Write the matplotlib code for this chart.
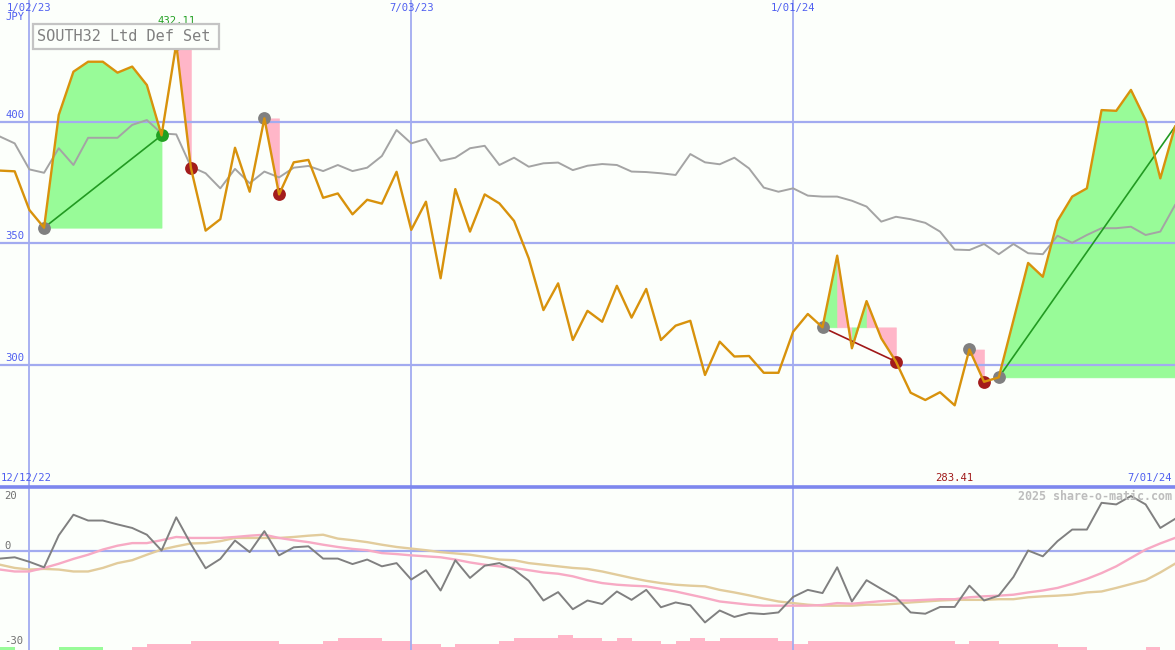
import matplotlib
matplotlib.use("Agg")
import matplotlib.pyplot as plt
from matplotlib.transforms import blended_transform_factory
from matplotlib.patches import Rectangle
import numpy as np

# ---------------- data ----------------
price = [380, 379.7, 363.8, 356.5, 402.9, 420.7, 424.8, 424.8, 420.3, 422.8,
         415.2, 394.5, 432.11, 381, 355.3, 360, 389.4, 371.3, 401.5, 370.2,
         383.4, 384.4, 368.8, 370.6, 362, 368, 366.4, 379.5, 355.6, 367.2,
         335.7, 372.4, 354.9, 370.2, 366.5, 359.3, 343.9, 322.6, 333.6, 310.3,
         322.3, 317.8, 332.6, 319.5, 331.3, 310.3, 316.2, 318.2, 295.9, 309.6,
         303.5, 303.7, 296.8, 296.8, 313.7, 321, 315.5, 345, 306.9, 326.3,
         311, 301.4, 288.6, 285.6, 288.8, 283.41, 306.4, 293.1, 294.9, 318.4,
         342, 336.3, 359.3, 369.3, 372.7, 404.9, 404.6, 413.2, 400.8, 376.8,
         398.1]

benchmark = [394, 391.2, 380.5, 379.1, 389.2, 382.3, 393.5, 393.5, 393.5, 398.8,
             400.8, 395.3, 394.9, 381.6, 378.9, 372.7, 380.7, 374.8, 379.6, 377.2,
             381.2, 381.9, 379.8, 382.3, 379.8, 381.2, 386, 396.7, 391.2, 393,
             384, 385.3, 389.2, 390.2, 382.3, 385.3, 381.6, 383, 383.3, 380.2,
             382, 382.7, 382.3, 379.6, 379.4, 378.9, 378.2, 386.8, 383.4, 382.6,
             385.3, 380.9, 373, 371.3, 372.7, 369.7, 369.3, 369.3, 367.6, 365.2,
             359, 361, 360, 358.5, 354.9, 347.5, 347.3, 349.8, 345.6, 349.8,
             346, 345.6, 353.2, 350.3, 353.5, 356.3, 356.3, 356.9, 353.5, 354.9,
             365.8]

momentum = [-2.2, -1.8, -3.2, -4.9, 5.0, 11.4, 9.6, 9.6, 8.4, 7.3,
            5.2, 0.3, 10.6, 2.3, -5.2, -2.3, 3.4, -0.2, 6.3, -1.2,
            1.3, 1.6, -2.2, -2.2, -3.9, -2.5, -4.6, -3.6, -8.7, -5.8,
            -12.1, -2.7, -8.2, -4.4, -3.6, -5.6, -9.1, -15.2, -12.6, -17.9,
            -15.2, -16.3, -12.4, -15.0, -11.9, -17.3, -15.8, -16.7, -22.0, -18.3,
            -20.3, -19.1, -19.4, -18.9, -14.1, -11.9, -12.9, -4.9, -15.5, -8.9,
            -11.6, -14.2, -18.9, -19.3, -17.2, -17.2, -10.6, -15.2, -13.7, -7.9,
            0.3, -1.5, 3.2, 6.8, 6.8, 15.1, 14.6, 17.2, 14.6, 7.3,
            10.1]

ma_fast = [-5.6, -6.2, -6.2, -5.1, -3.8, -2.3, -1.0, 0.6, 1.8, 2.6,
           2.6, 3.5, 4.5, 4.2, 4.2, 4.2, 4.5, 4.9, 5.2, 4.2,
           3.5, 2.9, 2.1, 1.4, 0.8, 0.4, -0.5, -0.8, -1.2, -1.5,
           -1.8, -2.5, -3.4, -4.1, -4.6, -5.1, -5.8, -6.5, -6.9, -7.7,
           -8.9, -9.8, -10.3, -10.6, -10.8, -11.6, -12.4, -13.4, -14.4, -15.5,
           -16.0, -16.5, -16.8, -16.8, -16.8, -16.8, -16.6, -16.0, -16.2, -15.8,
           -15.4, -15.2, -15.2, -15.0, -14.8, -14.8, -14.2, -13.9, -13.7, -13.4,
           -12.7, -12.1, -11.3, -10.0, -8.5, -6.7, -4.6, -2.0, 0.6, 2.5,
           4.2]

ma_slow = [-4.1, -5.1, -5.6, -5.4, -5.6, -6.2, -6.2, -5.1, -3.6, -2.7,
           -1.0, 0.6, 1.6, 2.5, 2.6, 3.2, 4.2, 4.2, 4.2, 4.2,
           4.5, 4.9, 5.2, 4.0, 3.5, 2.9, 2.1, 1.4, 0.9, 0.4,
           -0.2, -0.6, -1.0, -1.7, -2.5, -2.7, -3.6, -4.1, -4.6, -5.1,
           -5.4, -6.2, -7.2, -8.2, -9.1, -9.8, -10.3, -10.6, -10.8, -11.9,
           -12.7, -13.6, -14.6, -15.5, -16.0, -16.5, -16.8, -16.8, -16.8, -16.5,
           -16.5, -16.2, -15.8, -15.5, -15.2, -15.0, -15.0, -15.0, -14.8, -14.8,
           -14.2, -13.9, -13.7, -13.4, -12.7, -12.4, -11.3, -10.1, -8.9, -6.5,
           -3.8]

# histogram blocks at bottom of lower panel (+ green, - pink)
hist = [1, 0, 0, 0, 1, 1, 1, 0, 0, -1,
        -2, -2, -2, -3, -3, -3, -3, -3, -3, -2,
        -2, -2, -3, -4, -4, -4, -3, -3, -2, -2,
        -1, -2, -2, -2, -3, -4, -4, -4, -5, -4,
        -4, -3, -4, -3, -3, -2, -3, -4, -3, -4,
        -4, -4, -4, -3, -2, -3, -3, -3, -3, -3,
        -3, -3, -3, -3, -3, -2, -3, -3, -2, -2,
        -2, -2, -1, -1, 0, 0, 0, 0, -1, 0,
        0]

# trades: (start index, end index, entry level, segment colours)
trades = [
    (3, 11, 356.5, ['g'] * 8),
    (12, 13, 432.11, ['p']),
    (18, 19, 401.5, ['p']),
    (56, 61, 315.5, ['g', 'p', 'g', 'p', 'p']),
    (66, 67, 306.4, ['p']),
    (68, 80, 294.9, ['g'] * 12),
]
trade_lines = [(3, 11, 'g'), (56, 61, 'r'), (68, 80, 'g')]
gray_dots = [3, 12, 18, 56, 66, 68]
red_dots = [13, 19, 61, 67]
green_dots = [11]

date_labels = ['1/02/23', '7/03/23', '1/01/24']
date_idx = [2, 28, 54]
price_ticks = [300, 350, 400]
lower_ticks = [('20', 20), ('0', 0), ('-30', -30)]
title = 'SOUTH32 Ltd Def Set'
hi_label, lo_label = '432.11', '283.41'

# ---------------- style ----------------
W, H = 1175, 650
BG = '#fcfffb'
GRID = '#a2abf0'
BLUE_TXT = '#4f5ff0'
ORANGE = '#d8920c'
GREEN_FILL = '#98fb98'
PINK_FILL = '#ffb6c8'
MONO = 'DejaVu Sans Mono'

fig = plt.figure(figsize=(W / 100, H / 100), dpi=100, facecolor=BG)
ax = fig.add_axes([0, 163 / H, 1, 487 / H], facecolor=BG)
ax2 = fig.add_axes([0, 0, 1, 163 / H], facecolor=BG)
n = len(price)
x = np.arange(n)
for a in (ax, ax2):
    a.set_xlim(0, n - 1)
    for s in a.spines.values():
        s.set_visible(False)
    a.set_xticks([])
    a.set_yticks([])
ax.set_ylim(249.8, 450.2)
ax2.set_ylim(-30.55, 20)

# grid lines
for v in price_ticks:
    ax.axhline(v, color=GRID, lw=1.6, zorder=2)
for i in date_idx:
    ax.axvline(i, color=GRID, lw=1.3, zorder=2)
    ax2.axvline(i, color=GRID, lw=1.3, zorder=2)
ax2.axhline(0, color=GRID, lw=1.6, zorder=2)
ax2.axhline(20, color='#7d87ee', lw=2.6, zorder=6, clip_on=False)

# trade fills: one polygon per run of equally coloured segments
cmap = {'g': GREEN_FILL, 'p': PINK_FILL}
for s, e, lvl, cols in trades:
    k = 0
    while k < len(cols):
        k2 = k
        while k2 + 1 < len(cols) and cols[k2 + 1] == cols[k]:
            k2 += 1
        a0, a1 = s + k, s + k2 + 1
        xs = np.arange(a0, a1 + 1, dtype=float)
        ys = np.array(price[a0:a1 + 1])
        xf = np.linspace(a0, a1, 60 * (a1 - a0) + 1)
        yf = np.interp(xf, xs, ys)
        ax.fill_between(xf, yf, lvl, color=cmap[cols[k]], lw=0.4,
                        edgecolor=cmap[cols[k]], zorder=1)
        k = k2 + 1

# benchmark line
ax.plot(x, benchmark, color='#a4a4a4', lw=1.4, zorder=3)

# trade lines
lcol = {'g': '#229a22', 'r': '#a01818'}
for s, e, c in trade_lines:
    ax.plot([s, e], [price[s], price[e]], color=lcol[c], lw=1.2, zorder=4)

# dots
ax.scatter(gray_dots, [price[i] for i in gray_dots], s=85, color='#808080', zorder=5, lw=0)
ax.scatter(red_dots, [price[i] for i in red_dots], s=85, color='#a31c1c', zorder=5, lw=0)
ax.scatter(green_dots, [price[i] for i in green_dots], s=85, color='#22a022', zorder=5, lw=0)

# price line
ax.plot(x, price, color=ORANGE, lw=1.7, zorder=6)

# lower panel
bar_unit = 3 / 3.225
for i, h in enumerate(hist):
    if h != 0:
        ax2.bar(i, abs(h) * bar_unit, bottom=-30.55, width=1, align='edge',
                color=GREEN_FILL if h > 0 else PINK_FILL, lw=0, zorder=1)
ax2.plot(x, ma_slow, color='#e2cc9c', lw=1.7, zorder=3)
ax2.plot(x, ma_fast, color='#f7aac4', lw=1.7, zorder=3)
ax2.plot(x, momentum, color='#808080', lw=1.4, zorder=4)

# ---------------- text ----------------
def fy(y):
    return 1 - y / H

FS = 7.6
bt = blended_transform_factory(ax.transData, fig.transFigure)
for lab, i in zip(date_labels, date_idx):
    ax.text(i, fy(8), lab, transform=bt, ha='center', va='center',
            color=BLUE_TXT, fontsize=FS, family=MONO)

fig.text(5 / W, fy(17), 'JPY', ha='left', va='center', color=BLUE_TXT, fontsize=FS, family=MONO)
bt_y = blended_transform_factory(fig.transFigure, ax.transData)
for v in price_ticks:
    ax.text(5 / W, v + 0.9, str(v), transform=bt_y, ha='left', va='bottom',
            color=BLUE_TXT, fontsize=FS, family=MONO, zorder=7)

lower_pos = {'20': 496, '0': 546, '-30': 641}
for lab, v in lower_ticks:
    fig.text(4 / W, fy(lower_pos[lab]), lab, ha='left', va='center',
             color='#707070', fontsize=FS, family=MONO)

# high / low labels
ax.text(12, fy(21), hi_label, transform=bt, ha='center', va='center',
        color='#22a022', fontsize=FS, family=MONO)
ax.text(65, fy(478), lo_label, transform=bt, ha='center', va='center',
        color='#a01818', fontsize=FS, family=MONO)

fig.text(1 / W, fy(478), '12/12/22', ha='left', va='center', color=BLUE_TXT, fontsize=FS, family=MONO)
fig.text(1172 / W, fy(478), '7/01/24', ha='right', va='center', color=BLUE_TXT, fontsize=FS, family=MONO)
fig.text(1172 / W, fy(496), '2025 share-o-matic.com', ha='right', va='center',
         color='#bdbdbd', fontsize=8.4, family=MONO, fontweight='bold')

# title box
fig.patches.append(Rectangle((32.5 / W, fy(48.5)), 186 / W, 24 / H, transform=fig.transFigure,
                             facecolor=BG, edgecolor='#c4c4c4', lw=1.6, zorder=8))
fig.text(37 / W, fy(36.5), title, ha='left', va='center', color='#808080',
         fontsize=11, family=MONO, zorder=9)

fig.savefig('out.png', dpi=100, facecolor=BG)
